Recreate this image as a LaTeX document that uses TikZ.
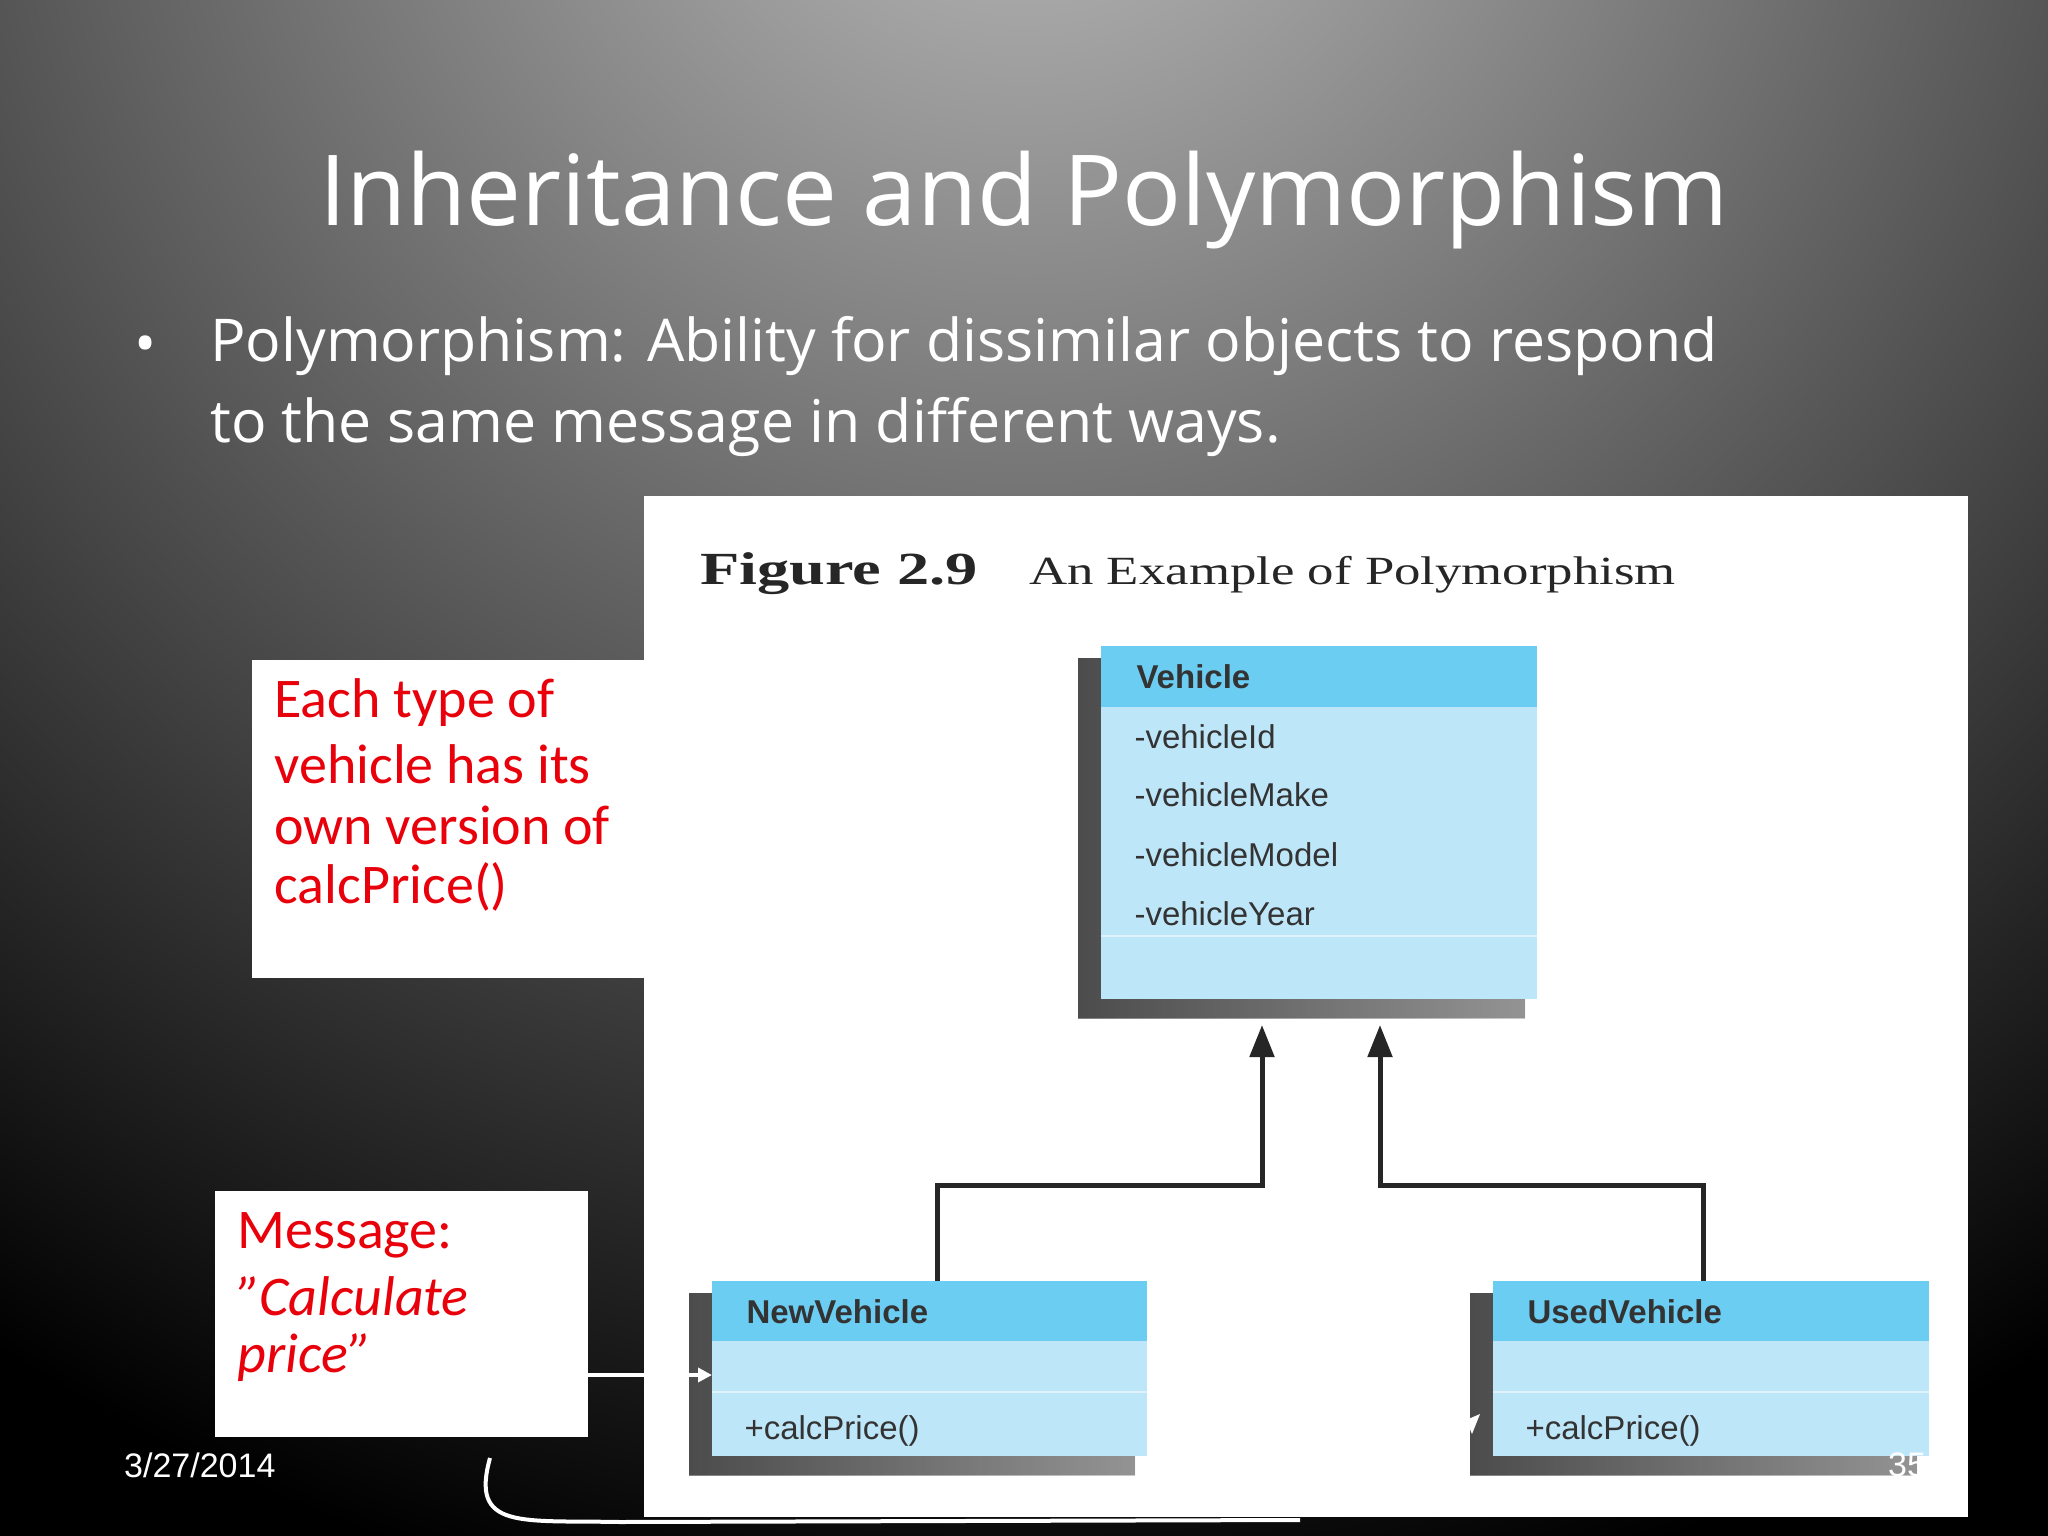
\documentclass[tikz,border=0pt]{standalone}
\usepackage{fontspec}
\setmainfont{Open Sans}
\newfontfamily\calib{Carlito}
\newfontfamily\arial{Liberation Sans}
\newfontfamily\serifb{Liberation Serif}
\usetikzlibrary{arrows.meta}
\definecolor{hdr}{HTML}{6CCDF2}
\definecolor{bdy}{HTML}{BEE6F9}
\definecolor{sep}{HTML}{DDF2FC}
\definecolor{txt}{HTML}{333333}
\definecolor{redt}{HTML}{E8000B}
\tikzset{
  box/.style={rectangle, fill=bdy, inner sep=0, anchor=north west},
  hdrbox/.style={rectangle, fill=hdr, inner sep=0, anchor=north west},
  shadowbox/.style={left color=black!70, right color=black!30, opacity=0.7},
  hdrtxt/.style={anchor=west, text=txt, font=\arial\bfseries\fontsize{33}{36}\selectfont},
  attr/.style={anchor=west, text=txt, font=\arial\fontsize{33}{36}\selectfont},
  arr/.style={line width=5pt, draw=black!85, -{Triangle[length=32pt,width=24pt]}},
  note/.style={rectangle, fill=white, inner sep=0, anchor=north west},
  redtxt/.style={anchor=west, text=redt, font=\calib\fontsize{56}{60}\selectfont},
}
\begin{document}
\begin{tikzpicture}[x=1pt,y=-1pt]
\useasboundingbox (0,0) rectangle (2048,1536);
\fill[black!8] (0,0) rectangle (2048,1536);
\begin{scope}
\clip (0,0) rectangle (2048,1536);
\fill[black] (0,0) rectangle (2048,1536);
\shade[inner color=black!25, outer color=black] (1024,-250) circle (1900);
\end{scope}
% title and bullet
\node[text=white, font=\fontsize{98}{110}\selectfont] (title) at (1024,200) {Inheritance and Polymorphism};
\node[text=white, font=\fontsize{59}{70}\selectfont] (bul) at (146,350) {•};
\node[text=white, anchor=north west, align=left, font=\fontsize{59}{81}\selectfont, inner sep=0] (body) at (210,316) {Polymorphism: Ability for dissimilar objects to respond\\to the same message in different ways.};
% curved white connector behind panel
\coordinate (cs) at (490,1458);
\coordinate (ce) at (1300,1520);
\draw[white, line width=4pt] (cs) .. controls (470,1530) and (520,1520) .. (620,1522) -- (ce);
% white panel
\node[note, minimum width=1324pt, minimum height=1021pt] (panel) at (644,496) {};
\node[anchor=base west, font=\serifb\bfseries\fontsize{46}{50}\selectfont, text=black!85, inner sep=0] (figno) at (700,584) {\scalebox{1.4}[1]{Figure 2.9}};
\node[anchor=base west, font=\serifb\fontsize{40}{50}\selectfont, text=black!85, inner sep=0] (figcap) at (1029,584) {\scalebox{1.32}[1]{An Example of Polymorphism}};
% Vehicle class
\fill[shadowbox] (1078,658) rectangle (1525,1018);
\node[box, minimum width=436pt, minimum height=353pt] (veh) at (1101,646) {};
\node[hdrbox, minimum width=436pt, minimum height=61pt] (vehh) at (1101,646) {};
\draw[sep, line width=2pt] (1101,936) -- (1537,936);
\node[hdrtxt] (vname) at (1133,677) {Vehicle};
\node[attr] (a1) at (1131,737) {-vehicleId};
\node[attr] (a2) at (1131,795) {-vehicleMake};
\node[attr] (a3) at (1131,855) {-vehicleModel};
\node[attr] (a4) at (1131,914) {-vehicleYear};
% NewVehicle
\fill[shadowbox] (689,1293) rectangle (1135,1475);
\node[box, minimum width=435pt, minimum height=175pt] (nv) at (712,1281) {};
\node[hdrbox, minimum width=435pt, minimum height=60pt] (nvh) at (712,1281) {};
\draw[sep, line width=2pt] (712,1392) -- (1147,1392);
\node[hdrtxt] (nvname) at (743,1312) {NewVehicle};
\node[attr] (nvm) at (741,1431) {+calcPrice()};
% UsedVehicle
\fill[shadowbox] (1470,1293) rectangle (1917,1475);
\node[box, minimum width=436pt, minimum height=175pt] (uv) at (1493,1281) {};
\node[hdrbox, minimum width=436pt, minimum height=60pt] (uvh) at (1493,1281) {};
\draw[sep, line width=2pt] (1493,1392) -- (1929,1392);
\node[hdrtxt] (uvname) at (1524,1312) {UsedVehicle};
\node[attr] (uvm) at (1522,1431) {+calcPrice()};
% inheritance arrows
\coordinate (t1) at (1262,1025);
\coordinate (t2) at (1380,1025);
\draw[arr] ([xshift=8pt]nv.north) |- (1262,1185) -- (t1);
\draw[arr] ([xshift=-8pt]uv.north) |- (1380,1185) -- (t2);
% note boxes
\node[note, minimum width=392pt, minimum height=318pt] (n1) at (252,660) {};
\node[redtxt] (n1a) at (271,703) {Each type of};
\node[redtxt] (n1b) at (271,764) {vehicle has its};
\node[redtxt] (n1c) at (271,825) {own version of};
\node[redtxt] (n1d) at (271,887) {calcPrice()};
\node[note, minimum width=373pt, minimum height=246pt] (n2) at (215,1191) {};
\node[redtxt] (n2a) at (234,1235) {Message:};
\node[redtxt, font=\calib\itshape\fontsize{56}{60}\selectfont] (n2b) at (234,1296) {”Calculate};
\node[redtxt, font=\calib\itshape\fontsize{56}{60}\selectfont] (n2c) at (234,1358) {price”};
\draw[white, line width=4pt, -{Triangle[length=14pt,width=14pt]}] (n2.east |- 0,1375) -- (nv.west |- 0,1375);
\fill[white] (1466,1420) -- (1480,1414) -- (1472,1434) -- cycle;
% footer
\node[anchor=west, text=white, font=\arial\fontsize{34}{40}\selectfont, inner sep=0] (date) at (124,1465) {3/27/2014};
\node[anchor=west, text=white, font=\arial\fontsize{34}{40}\selectfont, inner sep=0] (pg) at (1888,1465) {35};
\end{tikzpicture}
\end{document}
